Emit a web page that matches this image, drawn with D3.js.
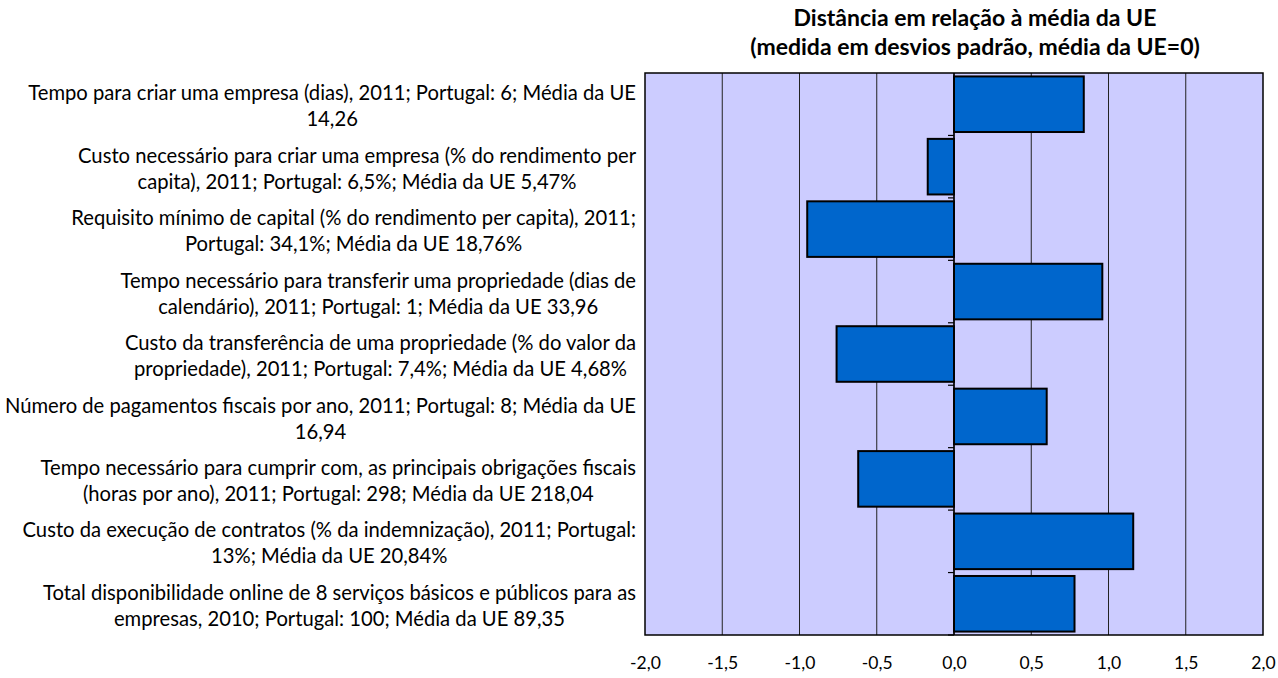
<!DOCTYPE html>
<meta charset="utf-8">
<body style="margin:0;background:#fff">
<style>
text { font-family: Lato, "Open Sans", sans-serif; fill: #000; }
.title { font-weight: bold; }
.xaxis text { font-size: 17.5px; font-family: Lato, sans-serif; }
</style>
<script src="https://cdn.jsdelivr.net/npm/d3@7"></script>
<script>
// category labels, each split into its two wrapped lines
var labels = [
  ["Tempo para criar uma empresa (dias), 2011; Portugal: 6; Média da UE", "14,26"],
  ["Custo necessário para criar uma empresa (% do rendimento per", "capita), 2011; Portugal: 6,5%; Média da UE 5,47%"],
  ["Requisito mínimo de capital (% do rendimento per capita), 2011;", "Portugal: 34,1%; Média da UE 18,76%"],
  ["Tempo necessário para transferir uma propriedade (dias de", "calendário), 2011; Portugal: 1; Média da UE 33,96"],
  ["Custo da transferência de uma propriedade (% do valor da", "propriedade), 2011; Portugal: 7,4%; Média da UE 4,68%"],
  ["Número de pagamentos fiscais por ano, 2011; Portugal: 8; Média da UE", "16,94"],
  ["Tempo necessário para cumprir com, as principais obrigações fiscais", "(horas por ano), 2011; Portugal: 298; Média da UE 218,04"],
  ["Custo da execução  de contratos (% da indemnização), 2011; Portugal:", "13%; Média da UE 20,84%"],
  ["Total disponibilidade online de 8 serviços básicos e públicos para as", "empresas, 2010; Portugal: 100; Média da UE 89,35"]
];
var values = [0.84, -0.17, -0.95, 0.96, -0.76, 0.60, -0.62, 1.16, 0.78];
var xTicks = [-2, -1.5, -1, -0.5, 0, 0.5, 1, 1.5, 2];
var titleLines = ["Distância em relação à média da UE", "(medida em desvios padrão, média da UE=0)"];

var width = 1278, height = 678;
var plot = {left: 645, right: 1263, top: 73, bottom: 635};

var svg = d3.select("body").append("svg")
    .attr("width", width)
    .attr("height", height);

var x = d3.scaleLinear().domain([-2, 2]).range([plot.left, plot.right]);
var y = d3.scaleBand().domain(d3.range(values.length))
    .range([plot.top, plot.bottom]).paddingInner(0.11).paddingOuter(0.055);
var yb = d3.scaleBand().domain(d3.range(values.length)).range([plot.top, plot.bottom]);

// plot background
svg.append("rect")
    .attr("x", plot.left).attr("y", plot.top)
    .attr("width", plot.right - plot.left).attr("height", plot.bottom - plot.top)
    .attr("fill", "#ccccff");

// vertical gridlines
svg.append("g").selectAll("line")
  .data(xTicks.slice(1, -1))
  .enter().append("line")
    .attr("x1", d => x(d)).attr("x2", d => x(d))
    .attr("y1", plot.top).attr("y2", plot.bottom)
    .attr("stroke", "#222").attr("stroke-width", 1);

// bars
svg.append("g").selectAll("rect")
  .data(values)
  .enter().append("rect")
    .attr("x", d => x(Math.min(0, d)))
    .attr("y", (d, i) => y(i))
    .attr("width", d => Math.abs(x(d) - x(0)))
    .attr("height", y.bandwidth())
    .attr("fill", "#0066cc")
    .attr("stroke", "#000")
    .attr("stroke-width", 2);

// zero axis with category tick marks
svg.append("line")
    .attr("x1", x(0)).attr("x2", x(0))
    .attr("y1", plot.top).attr("y2", plot.bottom)
    .attr("stroke", "#000").attr("stroke-width", 1.5);
svg.append("g").selectAll("line")
  .data(d3.range(1, values.length + 1))
  .enter().append("line")
    .attr("x1", x(0) - 6).attr("x2", x(0))
    .attr("y1", d => d < values.length ? yb(d) : plot.bottom)
    .attr("y2", d => d < values.length ? yb(d) : plot.bottom)
    .attr("stroke", "#000").attr("stroke-width", 1.2);

// plot border
svg.append("rect")
    .attr("x", plot.left).attr("y", plot.top)
    .attr("width", plot.right - plot.left).attr("height", plot.bottom - plot.top)
    .attr("fill", "none").attr("stroke", "#000").attr("stroke-width", 1.5);

// x axis labels (plain hyphen for negatives, comma decimals)
var xAxis = d3.axisBottom(x).tickValues(xTicks).tickSize(0).tickPadding(22)
    .tickFormat(d => d3.format(".1f")(d).replace("−", "-").replace(".", ","));
svg.append("g")
    .attr("class", "xaxis")
    .attr("transform", "translate(0," + plot.bottom + ")")
    .call(xAxis)
    .call(g => g.select(".domain").remove())
    .call(g => g.attr("font-size", null).attr("font-family", null));

// size a font so the given line reaches the target width
function fitSize(str, target, bold) {
  var t = svg.append("text").style("font-size", "16px")
      .style("font-weight", bold ? "bold" : "normal").text(str);
  var w = t.node().getComputedTextLength();
  t.remove();
  return 16 * target / w;
}

// category labels: lines centred on each other, block right-aligned
var labelRight = 636, lineH = 26;
var catSize = fitSize(labels[0][0], 608, false);
var catG = svg.append("g").style("font-size", catSize + "px");
labels.forEach(function(lines, i) {
  var cy = yb(i) + yb.bandwidth() / 2 + 2;
  var tmp = lines.map(function(s) {
    return catG.append("text").text(s);
  });
  var maxW = d3.max(tmp, t => t.node().getComputedTextLength());
  var cx = labelRight - maxW / 2;
  tmp.forEach(function(t, j) {
    t.attr("x", cx)
     .attr("y", cy + (j - (lines.length - 1) / 2) * lineH)
     .attr("dy", "0.35em")
     .attr("text-anchor", "middle");
  });
});

// title
var titleSize = fitSize(titleLines[1], 450, true);
svg.append("g").style("font-size", titleSize + "px").selectAll("text")
  .data(titleLines)
  .enter().append("text")
    .attr("class", "title")
    .attr("x", 975)
    .attr("y", (d, i) => 18 + i * 29)
    .attr("dy", "0.35em")
    .attr("text-anchor", "middle")
    .text(d => d);
</script>
</body>
